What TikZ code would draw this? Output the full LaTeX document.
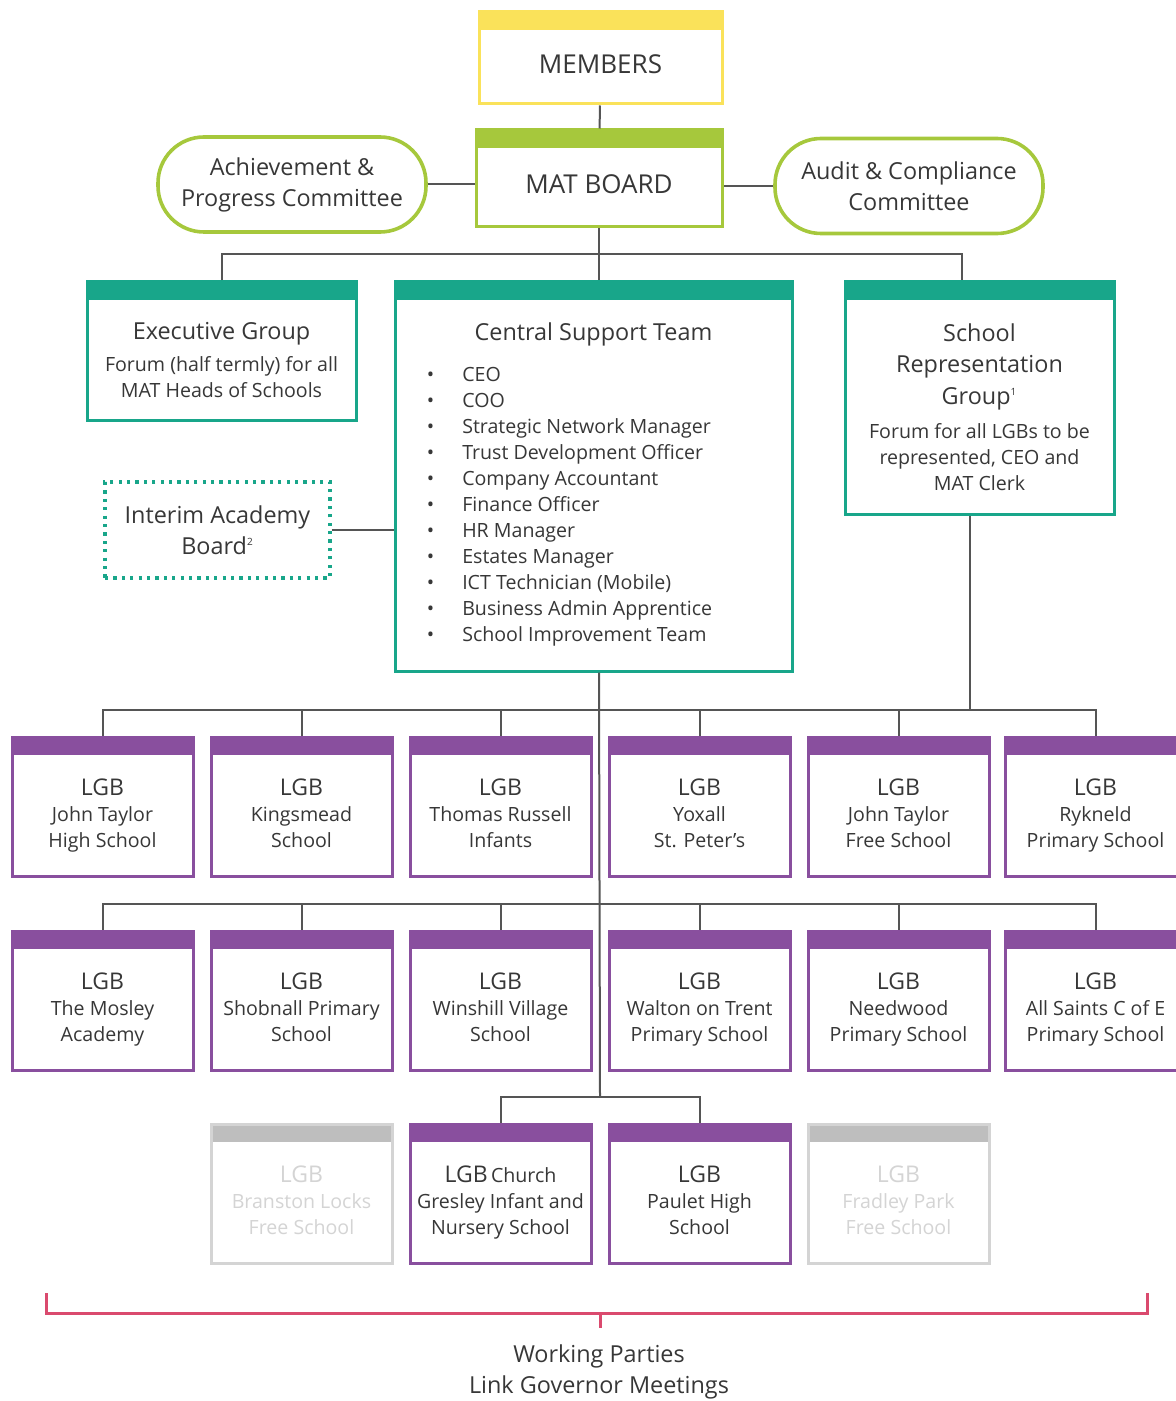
\documentclass[tikz,border=0pt]{standalone}
\usepackage{fontspec}
\setmainfont{Open Sans}
\usepackage{xcolor}
\usepackage{tikz}
\usetikzlibrary{positioning}
\definecolor{myyellow}{RGB}{250,226,90}
\definecolor{mygreen}{RGB}{166,200,60}
\definecolor{myteal}{RGB}{24,166,138}
\definecolor{mypurple}{RGB}{137,79,158}
\definecolor{mygrey}{RGB}{190,190,190}
\definecolor{mypale}{RGB}{212,212,212}
\definecolor{mypink}{RGB}{218,74,110}
\definecolor{myline}{RGB}{85,85,85}
\definecolor{mytext}{RGB}{55,55,55}
\newcommand{\headfont}{\fontsize{13}{15}\selectfont}
\newcommand{\titlefont}{\fontsize{11.7}{15.5}\selectfont}
\newcommand{\lgbfont}{\fontsize{11.5}{13}\selectfont}
\newcommand{\bodyfont}{\fontsize{9.8}{13}\selectfont}

\begin{document}
\begin{tikzpicture}[x=0.5pt, y=-0.5pt,
    every node/.style={text=mytext},
    box/.style={draw=#1, fill=white, line width=1.5pt, inner sep=0pt,
      path picture={\fill[#1] (path picture bounding box.north west)
        rectangle ([yshift=-9pt]path picture bounding box.north east);}},
    boxtext/.style={align=center, font=\bodyfont, yshift=-4.5pt},
    lgb/.style={box=mypurple, minimum width=90.5pt, minimum height=69.5pt,
      label={[boxtext]center:{\lgbfont LGB\\\bodyfont #1\vphantom{y}}}},
    oldlgb/.style={box=mygrey, draw=mypale, minimum width=90.5pt, minimum height=69.5pt,
      label={[boxtext, text=mypale]center:{\lgbfont LGB\\\bodyfont #1\vphantom{y}}}},
    pill/.style={draw=mygreen, line width=1.8pt, rounded corners=23pt,
      minimum width=134pt, minimum height=47.5pt, align=center, font=\titlefont},
    dotbox/.style={draw=myteal, line width=1.6pt, dash pattern=on 1.6pt off 2.6pt,
      minimum width=112.5pt, minimum height=48pt, align=center, font=\titlefont},
    link/.style={draw=myline, line width=1pt}]
  \useasboundingbox (0,0) rectangle (1176,1401);

  \node[box=myyellow, minimum width=121.5pt, minimum height=46pt,
    label={[font=\headfont, yshift=-3pt]center:MEMBERS}] (members) at (600.5,58) {};
  \node[box=mygreen, minimum width=123pt, minimum height=48.5pt,
    label={[font=\headfont, yshift=-3pt]center:MAT BOARD}] (matboard) at (599,178.5) {};
  \node[pill] (achieve) at (292,184.5) {Achievement \&\\Progress Committee};
  \node[pill] (audit) at (909,186) {Audit \& Compliance\\Committee};

  \node[box=myteal, minimum width=134.5pt, minimum height=69pt,
    label={[boxtext]center:{\titlefont Executive Group\\[3.3pt]\bodyfont Forum (half termly) for all\\MAT Heads of Schools}}] (exec) at (221.5,351) {};
  \node[box=myteal, minimum width=198.5pt, minimum height=194.5pt] (central) at (593.5,476.5) {};
  \node[font=\titlefont, anchor=base] (cstitle) at ([yshift=-30pt]central.north) {Central Support Team};
  \node[font=\bodyfont, inner sep=0pt, below right=41pt and 16.5pt of central.north west] (cslist)
    {\begin{tabular}{@{}l@{\hspace{14pt}}l@{}}
      \textbullet & CEO\\
      \textbullet & COO\\
      \textbullet & Strategic Network Manager\\
      \textbullet & Trust Development Officer\\
      \textbullet & Company Accountant\\
      \textbullet & Finance Officer\\
      \textbullet & HR Manager\\
      \textbullet & Estates Manager\\
      \textbullet & ICT Technician (Mobile)\\
      \textbullet & Business Admin Apprentice\\
      \textbullet & School Improvement Team
    \end{tabular}};
  \node[box=myteal, minimum width=134.5pt, minimum height=116pt,
    label={[boxtext]center:{\titlefont School\\[2.75pt]\titlefont Representation\\[2.75pt]\titlefont Group\textsuperscript{\tiny 1}\\[3.8pt]\bodyfont Forum for all LGBs to be\\represented, CEO and\\MAT Clerk}}] (srg) at (979.5,398) {};
  \node[dotbox] (interim) at (217.5,530) {Interim Academy\\Board\textsuperscript{\tiny 2}};

  \node[lgb={John Taylor\\High School}] (a1) at (102.5,806.5) {};
  \node[lgb={Kingsmead\\School}] (a2) at (301.5,806.5) {};
  \node[lgb={Thomas Russell\\Infants}] (a3) at (500.5,806.5) {};
  \node[lgb={Yoxall\\St. Peter’s}] (a4) at (699.5,806.5) {};
  \node[lgb={John Taylor\\Free School}] (a5) at (898.5,806.5) {};
  \node[lgb={Rykneld\\Primary School}] (a6) at (1095.5,806.5) {};

  \node[lgb={The Mosley\\Academy}] (b1) at (102.5,1000.5) {};
  \node[lgb={Shobnall Primary\\School}] (b2) at (301.5,1000.5) {};
  \node[lgb={Winshill Village\\School}] (b3) at (500.5,1000.5) {};
  \node[lgb={Walton on Trent\\Primary School}] (b4) at (699.5,1000.5) {};
  \node[lgb={Needwood\\Primary School}] (b5) at (898.5,1000.5) {};
  \node[lgb={All Saints C of E\\Primary School}] (b6) at (1095.5,1000.5) {};

  \node[oldlgb={Branston Locks\\Free School}] (c1) at (301.5,1193.5) {};
  \node[box=mypurple, minimum width=90.5pt, minimum height=69.5pt,
    label={[boxtext]center:{\lgbfont LGB\bodyfont\,Church\\Gresley Infant and\\Nursery School\vphantom{y}}}] (c2) at (500.5,1193.5) {};
  \node[lgb={Paulet High\\School}] (c3) at (699.5,1193.5) {};
  \node[oldlgb={Fradley Park\\Free School}] (c4) at (898.5,1193.5) {};

  \coordinate (tier) at (600,254);
  \coordinate (bus1) at (600,710);
  \coordinate (bus2) at (600,904);
  \coordinate (bus3) at (600,1097);

  \draw[link] (members) -- (matboard);
  \draw[link] (achieve.east) -- (achieve.east -| matboard.west);
  \draw[link] (audit.west) -- (audit.west -| matboard.east);
  \draw[link] (matboard.south) -- (matboard.south |- central.north);
  \draw[link] (exec.north) |- (tier) -| ([xshift=-8.75pt]srg.north);
  \draw[link] (interim.east) -- (interim.east -| central.west);
  \draw[link] (matboard.south |- central.south) -- (bus3);
  \draw[link] ([xshift=-4.75pt]srg.south) -- ([xshift=-4.75pt]srg.south |- bus1);

  \draw[link] (a1.north) |- (bus1) -| (a6.north);
  \draw[link] (a2.north) -- (a2.north |- bus1) (a3.north) -- (a3.north |- bus1)
    (a4.north) -- (a4.north |- bus1) (a5.north) -- (a5.north |- bus1);
  \draw[link] (b1.north) |- (bus2) -| (b6.north);
  \draw[link] (b2.north) -- (b2.north |- bus2) (b3.north) -- (b3.north |- bus2)
    (b4.north) -- (b4.north |- bus2) (b5.north) -- (b5.north |- bus2);
  \draw[link] (c2.north) |- (bus3) -| (c3.north);

  \draw[mypink, line width=1.5pt] (46,1293) -- (46,1313) -- (1147,1313) -- (1147,1293);
  \coordinate (tick) at (600,1313);
  \node[font=\titlefont, align=center] (parties) at (599,1372) {Working Parties\\Link Governor Meetings};
  \draw[mypink, line width=1.5pt] (tick) -- ++(0,15);
\end{tikzpicture}
\end{document}
